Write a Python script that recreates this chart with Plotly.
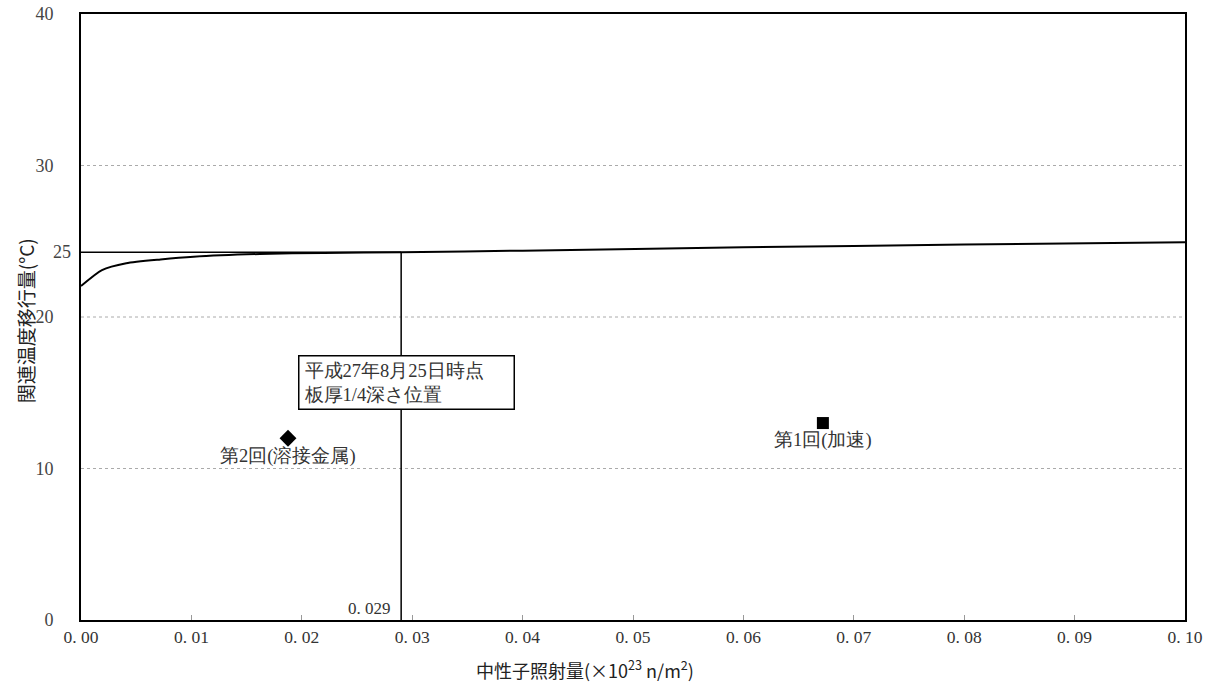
import plotly.graph_objects as go

# Curve (trend) data
curve_x = [0.0, 0.0019, 0.0041, 0.0072, 0.0102, 0.0162, 0.0220, 0.0290, 0.0400, 0.0600, 0.0800, 0.1000]
curve_y = [22.05, 23.1, 23.55, 23.8, 23.98, 24.16, 24.23, 24.27, 24.38, 24.6, 24.78, 24.93]

# Surveillance test points
pt_x = [0.01875, 0.0672]
pt_y = [12.0, 13.0]
pt_labels = ["第2回(溶接金属)", "第1回(加速)"]
pt_symbols = ["diamond", "square"]

# Reference position
ref_x = 0.029
ref_y = 24.27
ref_label = "0. 029"
ref_y_label = "25"
box_text = "平成27年8月25日時点<br>板厚1/4深さ位置"

grid_values = [10, 20, 30]
y_tickvals = [0, 10, 20, 30, 40]
y_ticktext = ["0", "10", "20", "30", "40"]
x_tickvals = [0.0, 0.01, 0.02, 0.03, 0.04, 0.05, 0.06, 0.07, 0.08, 0.09, 0.10]
x_ticktext = ["0. 00", "0. 01", "0. 02", "0. 03", "0. 04", "0. 05", "0. 06", "0. 07", "0. 08", "0. 09", "0. 10"]

serif = "Liberation Serif"
sans = "Noto Sans CJK JP"

fig = go.Figure()

# grid lines
for g in grid_values:
    fig.add_trace(go.Scatter(x=[0, 0.1], y=[g, g], mode="lines",
                             line=dict(color="#aaaaaa", width=1, dash="dot"),
                             hoverinfo="skip", showlegend=False))

# reference horizontal and vertical lines
fig.add_trace(go.Scatter(x=[0, ref_x], y=[ref_y, ref_y], mode="lines",
                         line=dict(color="black", width=1.5), showlegend=False))
fig.add_trace(go.Scatter(x=[ref_x, ref_x], y=[0, ref_y], mode="lines",
                         line=dict(color="black", width=1.5), showlegend=False))

# curve
fig.add_trace(go.Scatter(x=curve_x, y=curve_y, mode="lines",
                         line=dict(color="black", width=2, shape="spline", smoothing=0.6),
                         showlegend=False))

# points
for x, y, s in zip(pt_x, pt_y, pt_symbols):
    fig.add_trace(go.Scatter(x=[x], y=[y], mode="markers",
                             marker=dict(symbol=s, size=12 if s == "square" else 13, color="black"),
                             showlegend=False))

# point labels
for x, y, t in zip(pt_x, pt_y, pt_labels):
    fig.add_annotation(x=x, y=y, text=t, showarrow=False, yanchor="top", yshift=-5,
                       font=dict(family=serif, size=18.5, color="#333333"))

# 0.029 label
fig.add_annotation(x=ref_x, y=0, text=ref_label, showarrow=False, xanchor="right",
                   yanchor="bottom", xshift=-8, yshift=0,
                   font=dict(family=serif, size=17, color="#333333"))

# "25" label beside the reference line
fig.add_annotation(x=0, xref="paper", y=ref_y, yref="y", text=ref_y_label, showarrow=False,
                   xanchor="right", xshift=-8,
                   font=dict(family=serif, size=18, color="#444444"))

# info box
fig.add_annotation(x=0.0197, y=17.5, text=box_text, showarrow=False, xanchor="left",
                   yanchor="top", align="left", bgcolor="white", bordercolor="black",
                   borderwidth=1.5, borderpad=4, width=206,
                   font=dict(family=serif, size=18.5, color="#333333"))

# x axis title (offset left of centre as in the original)
fig.add_annotation(x=0.4565, y=-0.055, xref="paper", yref="paper", yanchor="top",
                   xanchor="center",
                   text="中性子照射量(×10<sup>23</sup> n/m<sup>2</sup>)", showarrow=False,
                   font=dict(family=sans, size=18, color="#222222"))

# y axis title
fig.add_annotation(x=-0.0507, y=0.493, xref="paper", yref="paper", textangle=-90,
                   xanchor="center", yanchor="middle",
                   text="関連温度移行量(°C)", showarrow=False,
                   font=dict(family=sans, size=19, color="#222222"))

fig.update_layout(
    width=1208, height=688,
    margin=dict(l=81, r=23, t=14, b=68, autoexpand=False),
    plot_bgcolor="white", paper_bgcolor="white",
    xaxis=dict(range=[0, 0.1], tickvals=x_tickvals, ticktext=x_ticktext, automargin=False,
               showgrid=False, zeroline=False, showline=True, linecolor="black",
               linewidth=2, mirror=True, ticks="inside", ticklen=5, tickcolor="#999999",
               tickfont=dict(family=serif, size=17.5, color="#333333")),
    yaxis=dict(range=[0, 40], tickvals=y_tickvals, ticktext=y_ticktext, automargin=False,
               showgrid=False, zeroline=False, showline=True, linecolor="black",
               linewidth=2, mirror=True, ticks="", ticklabelstandoff=22,
               tickfont=dict(family=serif, size=18, color="#444444")),
)

fig.write_html("out.html", config={"displayModeBar": False},
               post_script="document.body.style.margin='0';")
